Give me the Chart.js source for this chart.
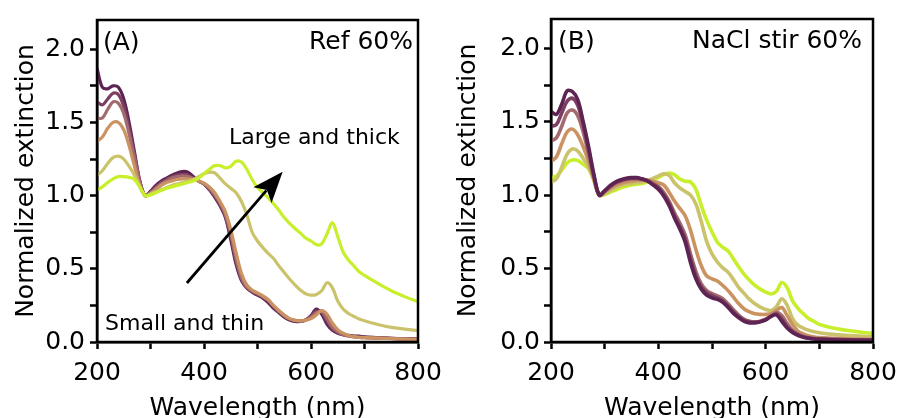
<!DOCTYPE html>
<html>
<head>
<meta charset="utf-8">
<title>Normalized extinction spectra</title>
<script src="https://cdn.jsdelivr.net/npm/chart.js@4.4.0/dist/chart.umd.min.js"></script>
<style>
  html, body { margin: 0; padding: 0; background: #fff; }
  #wrap { position: relative; width: 901px; height: 418px; overflow: hidden; }
  #chartA { position: absolute; left: 0; top: 0; }
  #chartB { position: absolute; left: 450px; top: 0; }
</style>
</head>
<body>
<div id="wrap">
  <canvas id="chartA" width="450" height="418"></canvas>
  <canvas id="chartB" width="451" height="418"></canvas>
</div>
<script>
// wavelength grid (nm) shared by every spectrum
const wavelengths = [
  200, 210, 220, 230, 240, 250, 260, 270, 280, 290,
  300, 310, 320, 330, 340, 350, 360, 370, 380, 390,
  400, 410, 420, 430, 440, 450, 460, 470, 480, 490,
  500, 510, 520, 530, 540, 550, 560, 570, 580, 590,
  600, 610, 620, 630, 640, 650, 660, 670, 680, 690,
  700, 725, 750, 775, 800
];

const xTicks = [200, 400, 600, 800];
const yTicks = [0.0, 0.5, 1.0, 1.5, 2.0];

// (A) Ref 60% - small/thin (plum) to large/thick (lime)
const refPlum = [
  1.87, 1.74, 1.73, 1.75, 1.74, 1.66, 1.50, 1.30, 1.10, 1.00,
  1.03, 1.07, 1.10, 1.12, 1.14, 1.155, 1.165, 1.16, 1.13, 1.10,
  1.08, 1.04, 0.99, 0.93, 0.85, 0.70, 0.53, 0.42, 0.37, 0.34,
  0.32, 0.30, 0.27, 0.23, 0.20, 0.17, 0.15, 0.14, 0.14, 0.15,
  0.18, 0.225, 0.19, 0.12, 0.08, 0.06, 0.05, 0.045, 0.04, 0.04,
  0.035, 0.03, 0.025, 0.022, 0.02
];
const refMauve = [
  1.64, 1.62, 1.66, 1.70, 1.69, 1.61, 1.46, 1.28, 1.10, 1.00,
  1.025, 1.06, 1.09, 1.11, 1.13, 1.14, 1.145, 1.14, 1.12, 1.10,
  1.08, 1.045, 1.00, 0.94, 0.86, 0.72, 0.55, 0.43, 0.37, 0.345,
  0.325, 0.305, 0.28, 0.24, 0.205, 0.175, 0.155, 0.145, 0.142, 0.15,
  0.175, 0.21, 0.205, 0.14, 0.09, 0.065, 0.05, 0.043, 0.038, 0.035,
  0.032, 0.028, 0.025, 0.022, 0.02
];
const refRose = [
  1.53, 1.53, 1.59, 1.64, 1.63, 1.56, 1.42, 1.26, 1.09, 1.00,
  1.02, 1.05, 1.08, 1.10, 1.12, 1.13, 1.135, 1.13, 1.115, 1.10,
  1.08, 1.05, 1.005, 0.95, 0.87, 0.74, 0.57, 0.44, 0.375, 0.35,
  0.33, 0.31, 0.285, 0.245, 0.21, 0.18, 0.158, 0.148, 0.145, 0.15,
  0.17, 0.20, 0.21, 0.16, 0.10, 0.07, 0.05, 0.04, 0.035, 0.032,
  0.03, 0.027, 0.024, 0.021, 0.019
];
const refTan = [
  1.37, 1.40, 1.46, 1.50, 1.50, 1.45, 1.34, 1.20, 1.07, 1.00,
  1.015, 1.04, 1.07, 1.09, 1.10, 1.11, 1.115, 1.115, 1.11, 1.10,
  1.085, 1.06, 1.02, 0.96, 0.89, 0.77, 0.61, 0.47, 0.39, 0.355,
  0.335, 0.315, 0.29, 0.25, 0.215, 0.185, 0.16, 0.148, 0.145, 0.148,
  0.16, 0.185, 0.215, 0.19, 0.13, 0.085, 0.06, 0.045, 0.037, 0.032,
  0.03, 0.026, 0.023, 0.02, 0.018
];
const refKhaki = [
  1.14, 1.17, 1.22, 1.26, 1.27, 1.25, 1.20, 1.14, 1.06, 1.00,
  1.01, 1.025, 1.04, 1.055, 1.07, 1.08, 1.09, 1.10, 1.11, 1.13,
  1.15, 1.16, 1.155, 1.12, 1.08, 1.05, 1.02, 0.96, 0.87, 0.75,
  0.69, 0.645, 0.605, 0.57, 0.52, 0.475, 0.43, 0.39, 0.355, 0.33,
  0.32, 0.325, 0.35, 0.405, 0.37, 0.28, 0.225, 0.195, 0.175, 0.157,
  0.145, 0.12, 0.10, 0.088, 0.077
];
const refLime = [
  1.04, 1.06, 1.09, 1.115, 1.13, 1.13, 1.125, 1.11, 1.06, 1.00,
  1.005, 1.02, 1.035, 1.05, 1.06, 1.07, 1.08, 1.09, 1.10, 1.12,
  1.15, 1.18, 1.205, 1.205, 1.19, 1.20, 1.235, 1.23, 1.18, 1.11,
  1.055, 1.02, 0.985, 0.945, 0.90, 0.85, 0.81, 0.775, 0.745, 0.71,
  0.69, 0.665, 0.67, 0.74, 0.815, 0.72, 0.615, 0.56, 0.52, 0.48,
  0.455, 0.40, 0.35, 0.31, 0.275
];

// (B) NaCl stir 60%
const naclPlum = [
  1.57, 1.55, 1.62, 1.71, 1.705, 1.65, 1.50, 1.33, 1.14, 1.00,
  1.03, 1.065, 1.09, 1.105, 1.115, 1.12, 1.12, 1.11, 1.095, 1.07,
  1.04, 0.995, 0.93, 0.845, 0.77, 0.68, 0.54, 0.43, 0.36, 0.32,
  0.30, 0.29, 0.27, 0.235, 0.195, 0.165, 0.14, 0.13, 0.13, 0.137,
  0.15, 0.175, 0.185, 0.14, 0.095, 0.065, 0.045, 0.032, 0.025, 0.02,
  0.018, 0.015, 0.013, 0.012, 0.011
];
const naclMauve = [
  1.47, 1.48, 1.56, 1.64, 1.66, 1.61, 1.48, 1.31, 1.13, 1.00,
  1.03, 1.06, 1.085, 1.10, 1.11, 1.115, 1.115, 1.11, 1.10, 1.075,
  1.05, 1.005, 0.945, 0.86, 0.785, 0.70, 0.565, 0.45, 0.375, 0.335,
  0.315, 0.30, 0.28, 0.245, 0.205, 0.172, 0.148, 0.137, 0.135, 0.14,
  0.152, 0.175, 0.19, 0.155, 0.105, 0.07, 0.048, 0.035, 0.027, 0.022,
  0.02, 0.017, 0.015, 0.013, 0.012
];
const naclRose = [
  1.37, 1.39, 1.47, 1.56, 1.58, 1.54, 1.43, 1.28, 1.12, 1.00,
  1.025, 1.055, 1.08, 1.095, 1.105, 1.11, 1.11, 1.108, 1.10, 1.08,
  1.06, 1.02, 0.96, 0.88, 0.81, 0.73, 0.60, 0.48, 0.395, 0.35,
  0.33, 0.315, 0.295, 0.26, 0.22, 0.182, 0.155, 0.142, 0.138, 0.142,
  0.155, 0.175, 0.20, 0.18, 0.125, 0.08, 0.055, 0.04, 0.03, 0.025,
  0.022, 0.018, 0.016, 0.014, 0.013
];
const naclTan = [
  1.23, 1.26, 1.35, 1.43, 1.45, 1.41, 1.33, 1.23, 1.11, 1.00,
  1.02, 1.045, 1.065, 1.08, 1.09, 1.095, 1.10, 1.10, 1.10, 1.095,
  1.085, 1.07, 1.02, 0.96, 0.91, 0.86, 0.76, 0.63, 0.52, 0.45,
  0.43, 0.415, 0.385, 0.35, 0.305, 0.26, 0.225, 0.205, 0.192, 0.188,
  0.188, 0.193, 0.215, 0.235, 0.18, 0.12, 0.075, 0.055, 0.042, 0.035,
  0.03, 0.025, 0.022, 0.02, 0.018
];
const naclKhaki = [
  1.09, 1.11, 1.19, 1.28, 1.315, 1.30, 1.25, 1.19, 1.10, 1.00,
  1.01, 1.03, 1.05, 1.065, 1.075, 1.08, 1.085, 1.09, 1.10, 1.115,
  1.13, 1.145, 1.135, 1.085, 1.05, 1.025, 1.00, 0.94, 0.82, 0.685,
  0.60, 0.545, 0.505, 0.475, 0.425, 0.37, 0.33, 0.29, 0.26, 0.237,
  0.222, 0.215, 0.24, 0.295, 0.25, 0.16, 0.115, 0.095, 0.08, 0.07,
  0.063, 0.052, 0.045, 0.04, 0.036
];
const naclLime = [
  1.12, 1.13, 1.17, 1.22, 1.24, 1.235, 1.21, 1.18, 1.10, 1.00,
  1.005, 1.02, 1.035, 1.05, 1.06, 1.07, 1.075, 1.08, 1.09, 1.105,
  1.12, 1.14, 1.15, 1.14, 1.11, 1.095, 1.09, 1.04, 0.93, 0.83,
  0.75, 0.68, 0.645, 0.62, 0.565, 0.51, 0.46, 0.42, 0.385, 0.36,
  0.34, 0.327, 0.345, 0.405, 0.37, 0.28, 0.23, 0.193, 0.16, 0.14,
  0.12, 0.095, 0.08, 0.068, 0.058
];

const palette = ['#5d2353', '#7c3e61', '#a36b6d', '#cb9361', '#cbc36b', '#c7ef2c'];
const FONT = '"DejaVu Sans", "Liberation Sans", sans-serif';

function toPoints(values) {
  return values.map((v, i) => ({ x: wavelengths[i], y: v }));
}

// box frame, panel captions and the size-trend arrow
const panelDecor = {
  id: 'panelDecor',
  afterDatasetsDraw(chart, args, opts) {
    const { ctx, chartArea: a, scales } = chart;
    ctx.save();
    ctx.strokeStyle = '#000';
    ctx.lineWidth = 2.5;
    ctx.strokeRect(a.left, a.top, a.right - a.left, a.bottom - a.top);

    ctx.fillStyle = '#000';
    ctx.textBaseline = 'alphabetic';
    (opts.labels || []).forEach(l => {
      ctx.font = l.size + 'px ' + FONT;
      ctx.textAlign = l.align;
      const x = l.align === 'right' ? a.right - l.dx : a.left + l.dx;
      ctx.fillText(l.text, x, a.top + l.dy);
    });

    if (opts.arrow) {
      const x0 = scales.x.getPixelForValue(opts.arrow.from[0]);
      const y0 = scales.y.getPixelForValue(opts.arrow.from[1]);
      const x1 = scales.x.getPixelForValue(opts.arrow.to[0]);
      const y1 = scales.y.getPixelForValue(opts.arrow.to[1]);
      const ang = Math.atan2(y1 - y0, x1 - x0);
      const headLen = 31, headHalf = 12;
      const ux = Math.cos(ang), uy = Math.sin(ang);
      const bx = x1 - ux * headLen, by = y1 - uy * headLen;
      ctx.lineWidth = 2.8;
      ctx.beginPath();
      ctx.moveTo(x0, y0);
      ctx.lineTo(x1 - ux * headLen * 0.8, y1 - uy * headLen * 0.8);
      ctx.stroke();
      ctx.beginPath();
      ctx.moveTo(x1, y1);
      ctx.lineTo(bx - uy * headHalf, by + ux * headHalf);
      ctx.lineTo(x1 - ux * headLen * 0.78, y1 - uy * headLen * 0.78);
      ctx.lineTo(bx + uy * headHalf, by - ux * headHalf);
      ctx.closePath();
      ctx.fill();
    }
    ctx.restore();
  }
};

function buildPanel(canvasId, series, lineWidth, yAxisWidth, padRight, yTitlePad, yLabelPad, decor) {
  const datasets = series.map(s => ({
    data: toPoints(s.values),
    borderColor: s.color,
    borderWidth: lineWidth,
    pointRadius: 0,
    tension: 0.35,
    fill: false
  }));

  return new Chart(document.getElementById(canvasId), {
    type: 'line',
    data: { datasets: datasets },
    plugins: [panelDecor],
    options: {
      responsive: false,
      animation: false,
      events: [],
      layout: { padding: { top: 13, right: padRight, bottom: 0, left: 0 } },
      plugins: {
        legend: { display: false },
        tooltip: { enabled: false },
        panelDecor: decor
      },
      scales: {
        x: {
          type: 'linear',
          min: 200,
          max: 800,
          afterFit(scale) { scale.height = 76; },
          grid: { drawOnChartArea: false, drawTicks: true, tickLength: 7, tickWidth: 2.5, tickColor: '#000' },
          border: { display: true, color: '#000', width: 2.5 },
          ticks: {
            stepSize: 100,
            autoSkip: false,
            maxRotation: 0,
            padding: 4,
            color: '#000',
            // taller line box pushes the labels a little lower under the axis
            font: { family: FONT, size: 25, lineHeight: 1.6 },
            callback: v => (xTicks.includes(v) ? String(v) : '')
          },
          title: {
            display: true,
            text: 'Wavelength (nm)',
            color: '#000',
            font: { family: FONT, size: 25, lineHeight: 1.0 },
            padding: { top: 0, bottom: -3 }
          }
        },
        y: {
          min: 0,
          max: 2.2,
          afterFit(scale) { scale.width = yAxisWidth; },
          grid: { drawOnChartArea: false, drawTicks: true, tickLength: 7, tickWidth: 2.5, tickColor: '#000' },
          border: { display: true, color: '#000', width: 2.5 },
          ticks: {
            stepSize: 0.25,
            includeBounds: false,
            autoSkip: false,
            padding: yLabelPad,
            color: '#000',
            font: { family: FONT, size: 25 },
            callback: v => {
              const hit = yTicks.find(t => Math.abs(t - v) < 1e-6);
              return hit === undefined ? '' : hit.toFixed(1);
            }
          },
          title: {
            display: true,
            text: 'Normalized extinction',
            color: '#000',
            font: { family: FONT, size: 25, lineHeight: 1.2 },
            padding: { top: yTitlePad, bottom: 0 }
          }
        }
      }
    }
  });
}

// lime first so the panel-A spectra stack with the largest particles on top
buildPanel('chartA', [
  { values: refLime, color: palette[5] },
  { values: refKhaki, color: palette[4] },
  { values: refTan, color: palette[3] },
  { values: refRose, color: palette[2] },
  { values: refMauve, color: palette[1] },
  { values: refPlum, color: palette[0] }
], 3.2, 97, 32, 11, 5, {
  labels: [
    { text: '(A)', align: 'left', dx: 6, dy: 30, size: 25 },
    { text: 'Ref 60%', align: 'right', dx: 5, dy: 29, size: 25 },
    { text: 'Large and thick', align: 'left', dx: 132, dy: 124, size: 22 },
    { text: 'Small and thin', align: 'left', dx: 8, dy: 310, size: 22 }
  ],
  arrow: { from: [368, 0.403], to: [547, 1.164] }
});

buildPanel('chartB', [
  { values: naclPlum, color: palette[0] },
  { values: naclMauve, color: palette[1] },
  { values: naclRose, color: palette[2] },
  { values: naclTan, color: palette[3] },
  { values: naclKhaki, color: palette[4] },
  { values: naclLime, color: palette[5] }
], 3.6, 101, 28, 3, 4, {
  labels: [
    { text: '(B)', align: 'left', dx: 7, dy: 30, size: 25 },
    { text: 'NaCl stir 60%', align: 'right', dx: 11, dy: 29, size: 25 }
  ]
});
</script>
</body>
</html>
